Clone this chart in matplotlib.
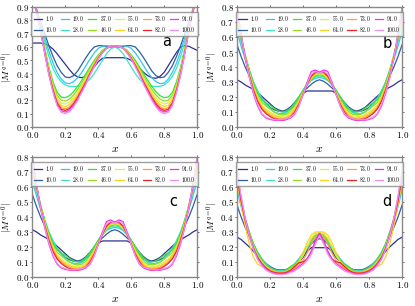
import numpy as np
import matplotlib
matplotlib.use("Agg")
import matplotlib.pyplot as plt
from matplotlib.ticker import FuncFormatter, MultipleLocator

plt.rcParams["mathtext.fontset"] = "cm"

labels = ["1.0", "10.0", "19.0", "28.0", "37.0", "46.0",
          "55.0", "64.0", "73.0", "82.0", "91.0", "100.0"]
colors = ["#2e3192", "#2f5f9f", "#33c6f0", "#3fe3c3", "#33e433", "#95dc22",
          "#dcef40", "#ffd21f", "#ffa040", "#ee2222", "#ee33ee", "#ee8fee"]

# x grid, left half (0 .. 0.5) -- curves are mirror symmetric about x = 0.5
x_half = [0.0, 0.025, 0.05, 0.075, 0.1, 0.125, 0.15, 0.175, 0.2, 0.225, 0.25,
          0.275, 0.3, 0.325, 0.35, 0.375, 0.4, 0.425, 0.45, 0.475, 0.5]

# panel a (first curve is not symmetric, given over full 0..1)
a_first_full = [.63, .63, .63, .625, .61, .585, .55, .51, .47, .43, .395,
                .375, .37, .38, .41, .45, .49, .515, .52, .52, .52,
                .52, .52, .515, .50, .47, .44, .41, .385, .37, .365,
                .38, .41, .46, .51, .56, .60, .61, .605, .59, .575]
a_10 = [.95, .87, .79, .70, .61, .53, .46, .41, .375, .37, .385, .42, .47, .52, .565, .60, .61, .61, .605, .60, .60]
a_19 = [1.0, .89, .78, .67, .57, .48, .41, .36, .33, .325, .34, .37, .41, .46, .51, .555, .59, .605, .61, .607, .605]
a_28 = [1.0, .88, .76, .64, .53, .44, .38, .34, .315, .305, .305, .305, .31, .33, .36, .40, .45, .50, .55, .585, .60]
a_37 = [1.0, .88, .74, .59, .45, .34, .26, .225, .22, .235, .265, .305, .35, .40, .45, .50, .54, .575, .595, .605, .61]
a_46 = [1.0, .878, .736, .581, .437, .322, .238, .20, .194, .209, .24, .282, .33, .382, .437, .489, .533, .571, .594, .605, .61]
a_55 = [1.0, .876, .732, .574, .426, .308, .22, .179, .172, .187, .219, .263, .314, .368, .426, .48, .528, .567, .593, .605, .61]
a_64 = [1.0, .874, .729, .568, .416, .295, .204, .161, .153, .168, .201, .246, .30, .355, .416, .472, .523, .564, .592, .605, .61]
a_73 = [1.0, .873, .726, .562, .408, .284, .19, .145, .136, .151, .185, .232, .287, .344, .408, .465, .519, .561, .592, .605, .61]
a_82 = [1.0, .872, .724, .558, .402, .276, .18, .133, .124, .139, .173, .221, .278, .336, .402, .46, .516, .559, .591, .605, .61]
a_91 = [1.0, .871, .722, .554, .396, .268, .17, .122, .112, .127, .162, .21, .269, .328, .396, .455, .513, .557, .59, .605, .61]
a_100 = [1.0, .87, .72, .55, .39, .26, .16, .11, .10, .115, .15, .20, .26, .32, .39, .45, .51, .555, .59, .605, .61]

# panel b (panel c shows the same values)
b_1 = [.315, .30, .28, .265, .25, .23, .205, .18, .155, .13, .115, .105, .105, .12, .15, .19, .225, .24, .24, .24, .24]
b_10 = [.55, .47, .40, .34, .28, .23, .19, .16, .13, .115, .105, .105, .115, .135, .165, .20, .235, .26, .285, .305, .315]
b_19 = [.64, .54, .45, .37, .30, .24, .19, .15, .12, .10, .09, .09, .10, .125, .16, .20, .24, .28, .31, .325, .33]
b_28 = [.68, .57, .47, .38, .30, .24, .19, .155, .125, .10, .09, .085, .095, .12, .155, .20, .245, .285, .315, .335, .34]
b_37 = [.72, .59, .48, .38, .29, .225, .18, .16, .145, .125, .105, .10, .105, .125, .16, .20, .245, .29, .32, .34, .35]
b_46 = [.74, .60, .48, .37, .28, .21, .165, .14, .12, .10, .085, .08, .085, .105, .14, .185, .235, .285, .32, .345, .35]
b_55 = [.75, .60, .47, .36, .27, .20, .15, .12, .10, .085, .07, .07, .075, .095, .13, .175, .23, .285, .325, .35, .355]
b_64 = [.76, .60, .47, .35, .26, .19, .14, .11, .09, .075, .065, .06, .065, .085, .12, .17, .225, .285, .33, .355, .36]
b_73 = [.77, .61, .47, .35, .255, .18, .13, .10, .08, .065, .055, .055, .06, .075, .11, .16, .22, .285, .335, .36, .36]
b_82 = [.78, .61, .46, .34, .245, .17, .12, .09, .07, .055, .05, .045, .05, .065, .10, .15, .215, .285, .34, .365, .365]
b_91 = [.80, .62, .46, .33, .22, .14, .085, .06, .05, .045, .045, .045, .05, .06, .085, .14, .22, .30, .37, .38, .365]
b_100 = [.80, .62, .46, .33, .23, .15, .09, .065, .055, .05, .05, .05, .055, .065, .09, .14, .215, .29, .355, .37, .36]

# panel d
d_1 = [.265, .25, .225, .20, .17, .14, .11, .085, .065, .05, .045, .045, .05, .06, .08, .10, .13, .17, .195, .195, .195]
d_10 = [.48, .40, .33, .27, .21, .16, .12, .09, .07, .055, .045, .045, .05, .065, .085, .11, .14, .18, .22, .245, .255]
d_19 = [.58, .47, .37, .29, .22, .165, .12, .09, .065, .05, .04, .04, .05, .065, .09, .12, .155, .19, .23, .26, .27]
d_28 = [.60, .48, .38, .29, .22, .16, .12, .085, .06, .045, .04, .04, .045, .06, .085, .12, .16, .20, .24, .265, .275]
d_37 = [.62, .50, .39, .30, .22, .16, .115, .08, .06, .045, .035, .035, .045, .07, .085, .11, .15, .20, .245, .275, .285]
d_46 = [.63, .50, .39, .29, .21, .15, .11, .075, .055, .04, .035, .035, .04, .06, .08, .105, .145, .20, .25, .28, .29]
d_55 = [.64, .50, .38, .28, .20, .14, .10, .07, .05, .035, .03, .03, .035, .05, .07, .10, .14, .20, .26, .29, .295]
d_64 = [.65, .48, .34, .22, .13, .085, .07, .06, .05, .04, .03, .03, .035, .045, .065, .10, .16, .23, .28, .30, .30]
d_73 = [.66, .50, .37, .27, .19, .13, .09, .065, .045, .035, .03, .03, .035, .045, .06, .08, .11, .16, .22, .27, .29]
d_82 = [.67, .51, .38, .27, .19, .13, .09, .06, .04, .03, .025, .025, .03, .045, .07, .095, .10, .12, .17, .24, .29]
d_91 = [.70, .53, .39, .28, .19, .125, .085, .055, .035, .025, .02, .02, .025, .035, .05, .07, .09, .12, .17, .24, .29]
d_100 = [.72, .54, .39, .27, .18, .115, .075, .045, .03, .02, .015, .015, .02, .03, .04, .06, .08, .11, .15, .22, .275]

a_halves = [None, a_10, a_19, a_28, a_37, a_46, a_55, a_64, a_73, a_82, a_91, a_100]
b_halves = [b_1, b_10, b_19, b_28, b_37, b_46, b_55, b_64, b_73, b_82, b_91, b_100]
d_halves = [d_1, d_10, d_19, d_28, d_37, d_46, d_55, d_64, d_73, d_82, d_91, d_100]


def mirror(h):
    h = np.asarray(h)
    return np.concatenate([h, h[-2::-1]])


x_full = np.concatenate([x_half, 1.0 - np.asarray(x_half)[-2::-1]])

fig = plt.figure(figsize=(4.15, 3.06), dpi=100)
pos = {"a": [0.078, 0.585, 0.397, 0.392], "b": [0.571, 0.585, 0.398, 0.392],
       "c": [0.078, 0.095, 0.397, 0.392], "d": [0.571, 0.095, 0.398, 0.392]}
letter_pos = {"a": (0.79, 0.71), "b": (0.88, 0.70), "c": (0.83, 0.63), "d": (0.88, 0.63)}
panels = {"a": a_halves, "b": b_halves, "c": b_halves, "d": d_halves}
fmt = FuncFormatter(lambda v, p: "$%.1f$" % v)

for key in ["a", "b", "c", "d"]:
    ax = fig.add_axes(pos[key])
    for i, h in enumerate(panels[key]):
        y = np.asarray(a_first_full) if h is None else mirror(h)
        ax.plot(x_full, y, color=colors[i], lw=0.9, label="$%s$" % labels[i])
    ax.set_xlim(0, 1)
    ax.set_ylim(0, 0.9 if key == "a" else 0.8)
    ax.xaxis.set_major_locator(MultipleLocator(0.2))
    ax.yaxis.set_major_locator(MultipleLocator(0.1))
    ax.xaxis.set_major_formatter(fmt)
    ax.yaxis.set_major_formatter(fmt)
    ax.tick_params(direction="out", top=True, right=True, labelsize=6.5,
                   length=1.5, width=0.6, color="#555555", pad=0.8)
    for s in ax.spines.values():
        s.set_color("#888888")
        s.set_linewidth(1.0)
    ax.set_xlabel("$x$", fontsize=8.5, labelpad=1)
    ax.set_ylabel("$|M^{q=0}|$", fontsize=7, labelpad=0.3)
    ax.text(letter_pos[key][0], letter_pos[key][1], key, transform=ax.transAxes,
            fontsize=10.5, family="DejaVu Sans", va="center")
    ax.legend(loc="upper center", ncol=6, fontsize=4.0, handlelength=1.5,
              handletextpad=0.6, columnspacing=0.7, borderpad=0.4,
              labelspacing=0.4, frameon=True, fancybox=False,
              edgecolor="#888888", bbox_to_anchor=(0.5, 0.985))

fig.savefig("out.png", dpi=100)
